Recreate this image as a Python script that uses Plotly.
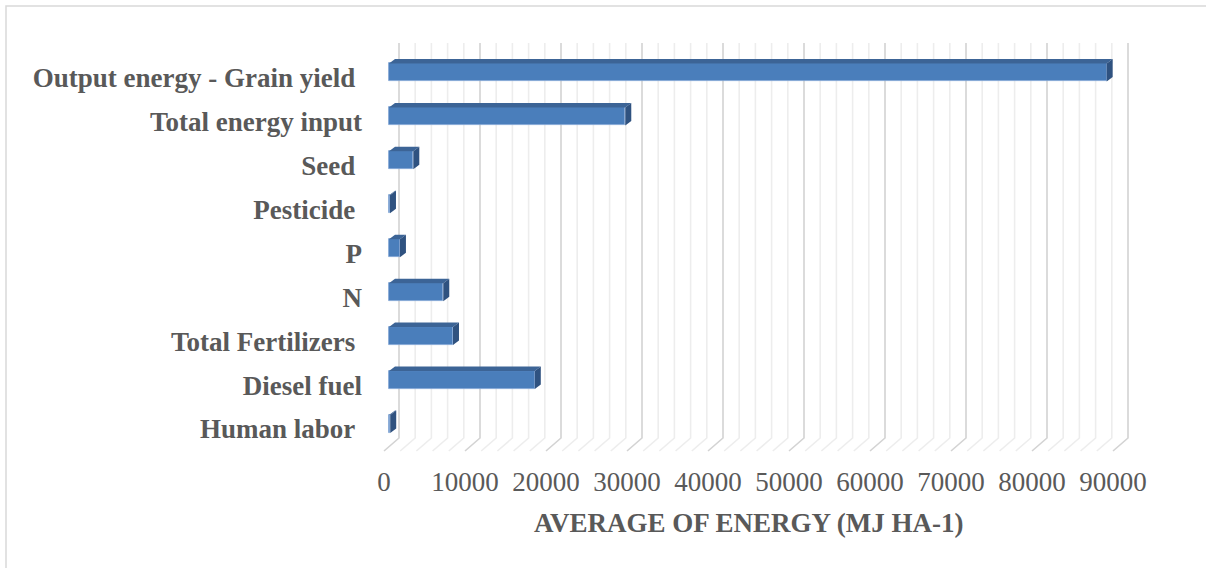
import plotly.graph_objects as go

# ---- data (bottom row first) ----
categories = [
    "Human labor",
    "Diesel fuel",
    "Total Fertilizers",
    "N",
    "P",
    "Pesticide",
    "Seed",
    "Total energy input",
    "Output energy - Grain yield",
]
# labels as typed in the workbook (some carry a trailing space)
category_labels = [
    "Human labor\u00a0",
    "Diesel fuel",
    "Total Fertilizers\u00a0",
    "N",
    "P",
    "Pesticide\u00a0",
    "Seed\u00a0",
    "Total energy input",
    "Output energy - Grain yield\u00a0",
]
energy_mj_ha = [150, 18000, 7900, 6700, 1350, 120, 3000, 29170, 88600]
x_tick_values = [0, 10000, 20000, 30000, 40000, 50000, 60000, 70000, 80000, 90000]
minor_step = 2000

# ---- page geometry (pixels) ----
W, H = 1206, 568
PLOT_L, PLOT_R, PLOT_T, PLOT_B = 375, 1150, 20, 458
X_ZERO_PX = 389          # where 0 sits on the bar plane
PX_PER_MJ = 0.0081       # horizontal pixels per MJ/ha
ROW0_PX = 424            # centre of the first bar row
ROW_PX = 43.94           # distance between rows

# perspective offsets of the pseudo-3D box (pixels)
BAR_DEPTH = (6, 4.5)     # bar top/side faces
WALL_DX = 10             # back wall relative to bar plane
FLOOR_DX = -5            # front floor edge relative to bar plane
WALL_TOP_PX, WALL_BOT_PX, FLOOR_FRONT_PX = 43, 438, 451

BAR_H_PX = 18
FONT_SIZE = 27

def ux(px):
    return px / PX_PER_MJ

def uy_off(px):
    return px / ROW_PX

def row_at(py):
    return (ROW0_PX - py) / ROW_PX

x_range = [(PLOT_L - X_ZERO_PX) / PX_PER_MJ, (PLOT_R - X_ZERO_PX) / PX_PER_MJ]
y_range = [row_at(PLOT_B), row_at(PLOT_T)]

FRONT = "#4A7EBB"
TOP = "#3C6496"
SIDE = "#2F5280"
EDGE = "#7FA3D3"
TEXT = "#595959"
FONT = "Liberation Serif, Times New Roman, serif"

rows = list(range(len(categories)))
bar_w = BAR_H_PX / ROW_PX

fig = go.Figure()

shapes = []

# back-wall grid with slanted floor segments
wall_top = row_at(WALL_TOP_PX)
wall_bot = row_at(WALL_BOT_PX)
floor_front = row_at(FLOOR_FRONT_PX)
for v in range(0, x_tick_values[-1] + 1, minor_step):
    major = v % 10000 == 0
    xb = v + ux(WALL_DX)
    xf = v + ux(FLOOR_DX)
    shapes.append(dict(
        type="path", xref="x", yref="y", layer="below",
        path=f"M {xb},{wall_top} L {xb},{wall_bot} L {xf},{floor_front}",
        line=dict(color="#D3D3D3" if major else "#EDEDED", width=1.6),
    ))

# front faces of the bars
fig.add_trace(go.Bar(
    x=energy_mj_ha, y=rows, orientation="h", width=bar_w,
    marker=dict(color=FRONT, line=dict(color=EDGE, width=0.8)),
    hovertext=categories, hoverinfo="text+x",
))

# top and side faces of the bars
ddx, ddy = ux(BAR_DEPTH[0]), uy_off(BAR_DEPTH[1])
for r, v in zip(rows, energy_mj_ha):
    y_lo, y_hi = r - bar_w / 2, r + bar_w / 2
    shapes.append(dict(
        type="path", xref="x", yref="y", layer="above",
        path=(f"M 0,{y_hi} L {v},{y_hi} L {v + ddx},{y_hi + ddy} "
              f"L {ddx},{y_hi + ddy} Z"),
        fillcolor=TOP, line=dict(width=0),
    ))
    shapes.append(dict(
        type="path", xref="x", yref="y", layer="above",
        path=(f"M {v},{y_lo} L {v},{y_hi} L {v + ddx},{y_hi + ddy} "
              f"L {v + ddx},{y_lo + ddy} Z"),
        fillcolor=SIDE, line=dict(width=0),
    ))

# chart frame (left and top edges)
def paper_x(px):
    return (px - PLOT_L) / (PLOT_R - PLOT_L)

def paper_y(py):
    return (PLOT_B - py) / (PLOT_B - PLOT_T)

shapes.append(dict(
    type="path", xref="paper", yref="paper", layer="above",
    path=(f"M {paper_x(6)},{paper_y(H + 5)} L {paper_x(6)},{paper_y(6)} "
          f"L {paper_x(W + 5)},{paper_y(6)}"),
    line=dict(color="#D9D9D9", width=1.5),
))

fig.update_layout(
    width=W, height=H,
    margin=dict(l=PLOT_L, r=W - PLOT_R, t=PLOT_T, b=H - PLOT_B, pad=0),
    paper_bgcolor="white", plot_bgcolor="rgba(0,0,0,0)",
    showlegend=False,
    shapes=shapes,
    bargap=0,
    annotations=[dict(
        text="AVERAGE OF ENERGY (MJ HA-1)",
        xref="x", yref="paper",
        x=x_tick_values[-1] / 2, xshift=FLOOR_DX,
        y=paper_y(523), yanchor="middle", xanchor="center",
        showarrow=False,
        font=dict(family=FONT, size=FONT_SIZE, color=TEXT, weight="bold"),
    )],
)

fig.update_xaxes(
    range=x_range, showgrid=False, zeroline=False, showline=False,
    tickmode="array", tickvals=x_tick_values,
    ticktext=[str(t) for t in x_tick_values],
    ticks="", ticklabelshift=FLOOR_DX, ticklabelstandoff=5,
    tickfont=dict(family=FONT, size=FONT_SIZE, color=TEXT),
)
fig.update_yaxes(
    range=y_range, showgrid=False, zeroline=False, showline=False,
    tickmode="array", tickvals=rows, ticktext=category_labels,
    ticks="", ticklabelshift=5, ticklabelstandoff=12,
    tickfont=dict(family=FONT, size=FONT_SIZE, color=TEXT, weight="bold"),
)

fig.write_html("out.html")
